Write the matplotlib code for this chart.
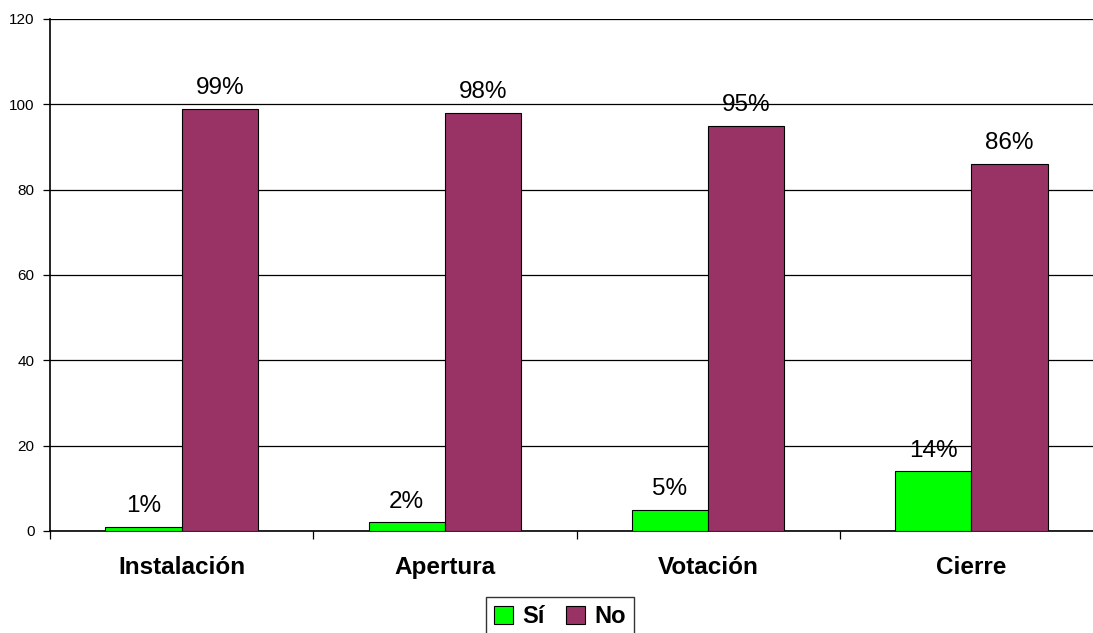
import matplotlib.pyplot as plt
import numpy as np

plt.rcParams['font.family'] = ['Liberation Sans', 'DejaVu Sans']

etapas = ['Instalación', 'Apertura', 'Votación', 'Cierre']
si = [1, 2, 5, 14]
no = [99, 98, 95, 86]
series = ['Sí', 'No']
colores = ['#00ff00', '#993366']

W, H = 1093, 633
fig = plt.figure(figsize=(W / 100, H / 100), dpi=100)
# plot area runs a little past the right edge of the image
ax = fig.add_axes([50 / W, 1 - 531 / H, 1053 / W, 512 / H])

x = np.arange(len(etapas))
ancho = 0.29
b1 = ax.bar(x - ancho / 2, si, ancho, color=colores[0], edgecolor='black', linewidth=0.8, label=series[0], zorder=3)
b2 = ax.bar(x + ancho / 2, no, ancho, color=colores[1], edgecolor='black', linewidth=0.8, label=series[1], zorder=3)

for barras, vals in ((b1, si), (b2, no)):
    for b, v in zip(barras, vals):
        ax.annotate(f'{v}%', (b.get_x() + b.get_width() / 2, v), xytext=(0, 7),
                    textcoords='offset points', ha='center', va='bottom', fontsize=17.5)

ax.set_xlim(-0.5, 3.5)
ax.set_ylim(0, 120)
ax.set_yticks(range(0, 121, 20))
ax.yaxis.grid(True, color='black', linewidth=0.9, zorder=0)
ax.tick_params(axis='y', labelsize=11, length=5, width=0.9, direction='out', pad=6)

ax.set_xticks(x)
ax.set_xticklabels(etapas, fontsize=17.5, fontweight='bold')
ax.set_xticks(np.arange(-0.5, 4, 1), minor=True)
ax.tick_params(axis='x', which='major', length=0, pad=18)
ax.tick_params(axis='x', which='minor', length=6, width=0.9, direction='out')

for s in ('top', 'right'):
    ax.spines[s].set_visible(False)
ax.spines['left'].set_linewidth(1.2)
ax.spines['bottom'].set_linewidth(1.2)

fig.legend(loc='upper center', bbox_to_anchor=(560 / W, 1 - 597 / H), ncol=2,
           prop={'size': 17, 'weight': 'bold'}, frameon=True, fancybox=False,
           edgecolor='black', handlelength=0.8, handleheight=0.8, handletextpad=0.4,
           columnspacing=0.9, borderpad=0.35, borderaxespad=0)

fig.savefig('out.png', dpi=100)
